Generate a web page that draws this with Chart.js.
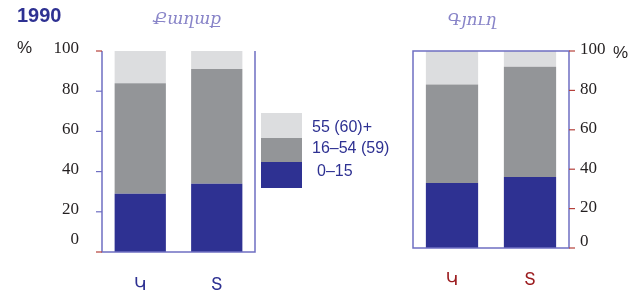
<!DOCTYPE html>
<html><head><meta charset="utf-8">
<script src="https://cdn.jsdelivr.net/npm/chart.js@4"></script>
<style>
html,body{margin:0;padding:0;background:#fff;}
#wrap{position:relative;width:643px;height:296px;overflow:hidden;font-family:"Liberation Sans",Arial,sans-serif;}
canvas{position:absolute;top:0;}
.t{position:absolute;white-space:nowrap;line-height:1;}
</style></head>
<body><div id="wrap">
<canvas id="c1" width="330" height="296" style="left:0"></canvas>
<canvas id="c2" width="313" height="296" style="left:330px"></canvas>
<div class="t" style="left:17px;top:5px;font-size:20px;font-weight:bold;color:#2e3192;">1990</div>
<div class="t" style="left:17px;top:39px;font-size:17px;color:#231f20;">%</div>
<div class="t" style="left:613px;top:44px;font-size:17px;color:#231f20;">%</div>
<div class="t" id="tt1" style="left:187px;top:10px;font-size:17px;font-style:italic;color:#8884c8;font-family:'DejaVu Serif',serif;transform:translateX(-50%);">Քաղաք</div>
<div class="t" id="tt2" style="left:472px;top:11px;font-size:17px;font-style:italic;color:#8884c8;font-family:'DejaVu Serif',serif;transform:translateX(-50%);">Գյուղ</div>
<div style="position:absolute;left:261px;top:113px;width:41px;height:25px;background:#dcdddf;"></div>
<div style="position:absolute;left:261px;top:138px;width:41px;height:24px;background:#939598;"></div>
<div style="position:absolute;left:261px;top:162px;width:41px;height:26px;background:#2e3192;"></div>
<div class="t" id="lg1" style="left:312px;top:119px;font-size:16px;color:#2e3192;"></div>
<div class="t" id="lg2" style="left:312px;top:140px;font-size:16px;color:#2e3192;"></div>
<div class="t" id="lg3" style="left:317px;top:163px;font-size:16px;color:#2e3192;"></div>
</div>
<script>
const categories = ['Կ', 'Տ'];
const legendLabels = ['55 (60)+', '16–54 (59)', '0–15'];
const cityYoung = [29, 34];
const cityMid = [55, 57];
const cityOld = [16, 9];
const villageYoung = [33, 36];
const villageMid = [50, 56];
const villageOld = [17, 8];
const yTicks = [0, 20, 40, 60, 80, 100];

document.getElementById('lg1').textContent = legendLabels[0];
document.getElementById('lg2').textContent = legendLabels[1];
document.getElementById('lg3').textContent = legendLabels[2];

const BLUE = '#2e3192', MID = '#939598', LIGHT = '#dcdddf';
const FRAME = '#6f6fc2', RED = '#b5403a';

function makeDatasets(young, mid, old) {
  return [
    {data: young, backgroundColor: BLUE},
    {data: mid, backgroundColor: MID},
    {data: old, backgroundColor: LIGHT}
  ].map(d => Object.assign(d, {barPercentage: 0.67, categoryPercentage: 1, borderWidth: 0}));
}

function framePlugin(side) {
  return {
    id: 'frame' + side,
    afterDraw(chart) {
      const ctx = chart.ctx, a = chart.chartArea, y = chart.scales.y, x = chart.scales.x;
      ctx.save();
      ctx.strokeStyle = FRAME; ctx.lineWidth = 1.5;
      ctx.beginPath();
      if (side === 'left') {
        ctx.moveTo(a.left, a.top); ctx.lineTo(a.left, a.bottom); ctx.lineTo(a.right, a.bottom); ctx.lineTo(a.right, a.top);
      } else {
        ctx.rect(a.left, a.top, a.right - a.left, a.bottom - a.top);
      }
      ctx.stroke();
      ctx.lineWidth = 1.2;
      yTicks.forEach(v => {
        const py = y.getPixelForValue(v);
        ctx.strokeStyle = side === 'right' ? RED : ((v === 0 || v === 100) ? RED : FRAME);
        ctx.beginPath();
        if (side === 'left') { ctx.moveTo(a.left - 6, py); ctx.lineTo(a.left, py); }
        else { ctx.moveTo(a.right, py); ctx.lineTo(a.right + 6, py); }
        ctx.stroke();
      });
      ctx.fillStyle = '#231f20';
      ctx.font = '17px "Liberation Serif", "DejaVu Serif", serif';
      ctx.textBaseline = 'middle';
      yTicks.forEach(v => {
        const py = y.getPixelForValue(v);
        if (side === 'left') {
          ctx.textAlign = 'right';
          ctx.fillText(String(v), a.left - 23, py + (v === 0 ? -12 : -2));
        } else {
          ctx.textAlign = 'left';
          ctx.fillText(String(v), a.right + 11, py + (v === 0 ? -6 : -1));
        }
      });
      ctx.font = '17px "Liberation Sans", "DejaVu Sans", sans-serif';
      ctx.textAlign = 'center';
      ctx.fillStyle = side === 'left' ? BLUE : '#9b1b1e';
      categories.forEach((c, i) => {
        const px = x.getPixelForValue(i);
        ctx.fillText(c, px, side === 'left' ? 285 : 280);
      });
      ctx.restore();
    }
  };
}

function baseOptions(padding) {
  return {
    responsive: false,
    animation: false,
    devicePixelRatio: 1,
    layout: {padding: padding},
    plugins: {legend: {display: false}, tooltip: {enabled: false}},
    scales: {
      x: {stacked: true, display: false},
      y: {stacked: true, display: false, min: 0, max: 100}
    }
  };
}

new Chart(document.getElementById('c1'), {
  type: 'bar',
  data: {labels: categories, datasets: makeDatasets(cityYoung, cityMid, cityOld)},
  options: baseOptions({left: 102, right: 75, top: 51, bottom: 44}),
  plugins: [framePlugin('left')]
});

new Chart(document.getElementById('c2'), {
  type: 'bar',
  data: {labels: categories, datasets: makeDatasets(villageYoung, villageMid, villageOld)},
  options: baseOptions({left: 83, right: 74, top: 51, bottom: 48}),
  plugins: [framePlugin('right')]
});
</script>
</body></html>
